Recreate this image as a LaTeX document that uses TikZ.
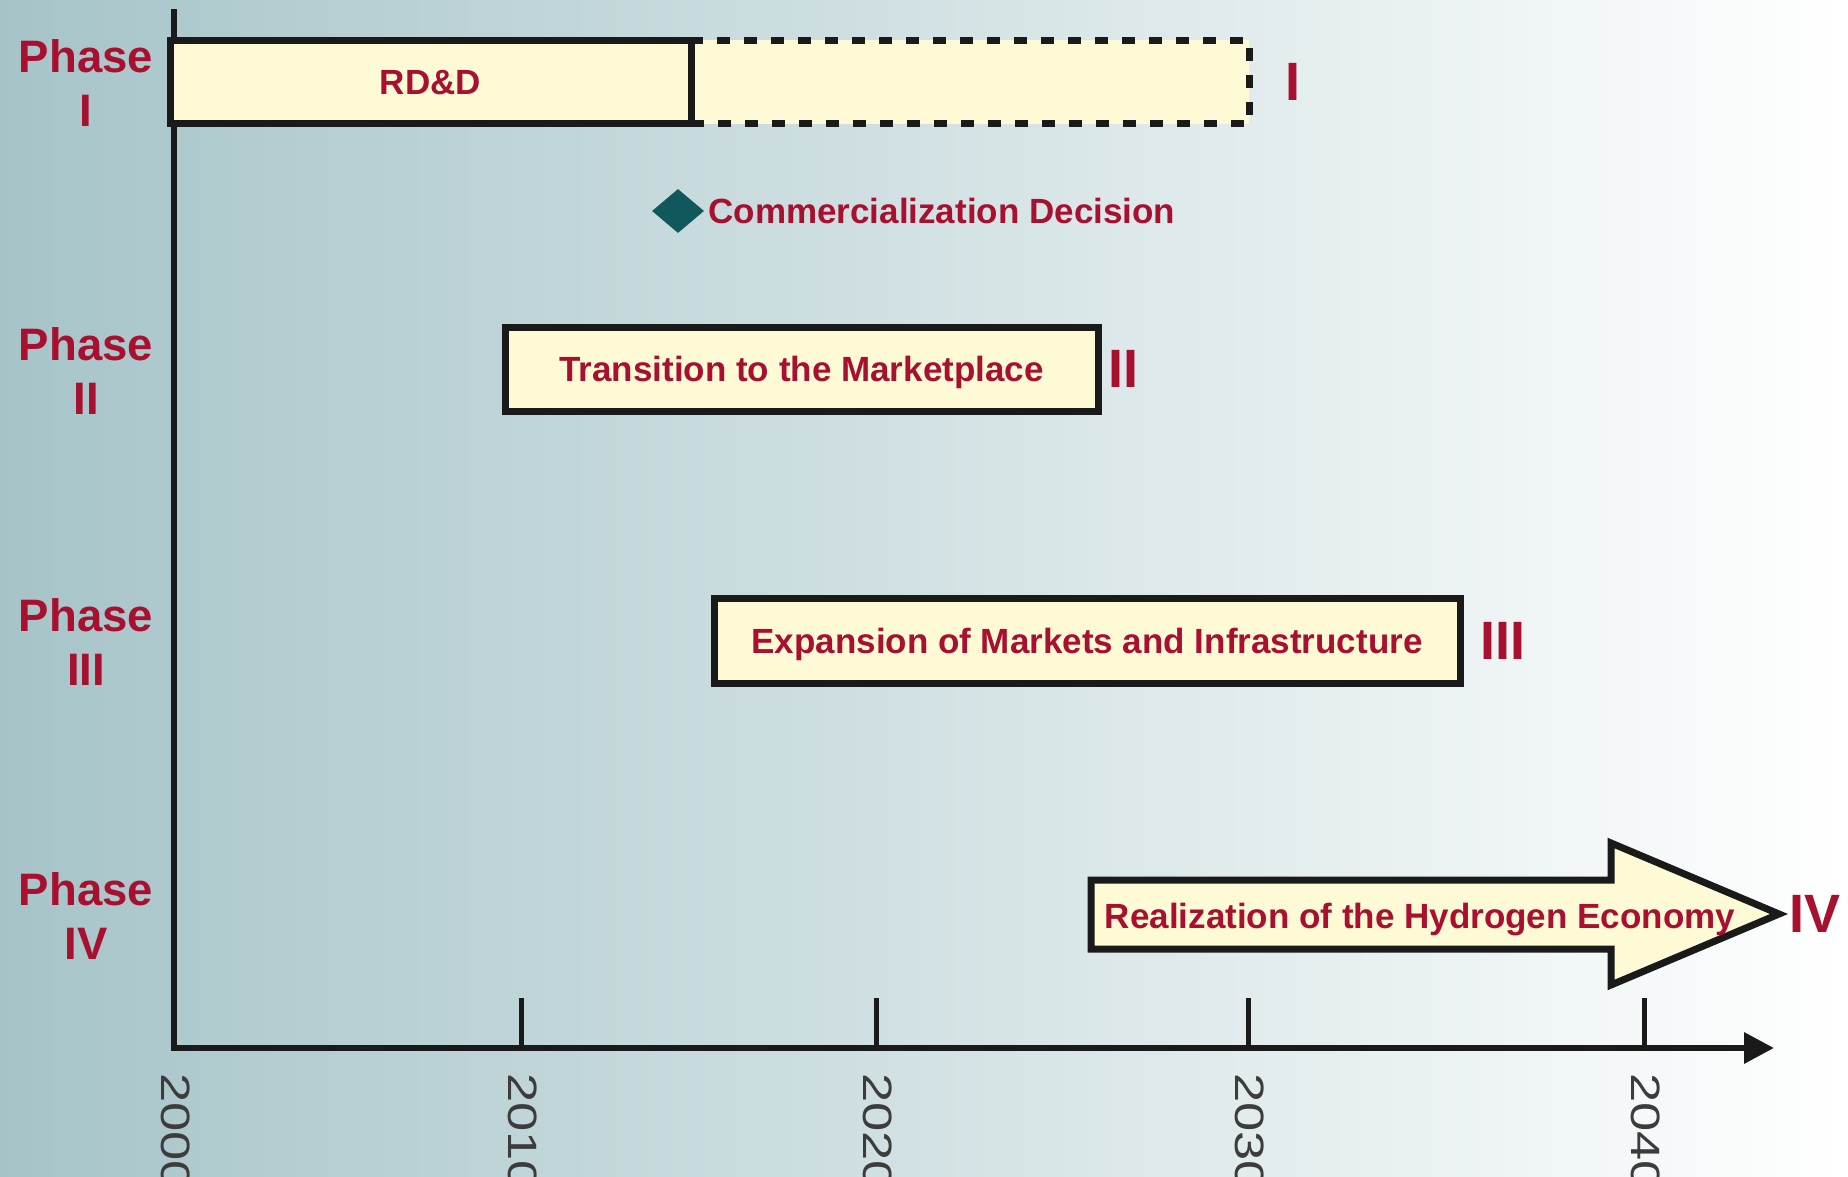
\documentclass[tikz,border=0pt]{standalone}
\usepackage{fontspec}
\setmainfont{Liberation Sans}
\usetikzlibrary{positioning, arrows.meta, shapes.geometric}

\definecolor{phasered}{RGB}{168,16,48}
\definecolor{barfill}{RGB}{255,250,214}
\definecolor{barline}{RGB}{26,26,26}
\definecolor{decteal}{RGB}{16,88,92}
\definecolor{yeargray}{RGB}{60,60,60}
\definecolor{bgleft}{RGB}{166,196,200}

\tikzset{
    >={Triangle[length=30pt,width=30pt]}, % filled head on the time axis
    outline/.style={draw=barline, line width=7pt, fill=barfill}, % cream boxes with heavy border
    bartext/.style={font=\fontsize{35}{40}\selectfont\bfseries, text=phasered, text height=25pt, text depth=0pt},
    phasebar/.style={outline, bartext, inner sep=0pt},
    extension/.style={phasebar, dash pattern=on 13pt off 14pt}, % open end of phase I
    phaselabel/.style={font=\fontsize{45.5}{54}\selectfont\bfseries, text=phasered, align=center, inner sep=0pt},
    numeral/.style={font=\fontsize{54}{54}\selectfont\bfseries, text=phasered, inner sep=0pt},
    yearlabel/.style={rotate=-90, xscale=1.28, anchor=west, inner sep=0pt, font=\fontsize{41}{41}\selectfont, text=yeargray},
    decision/.style={diamond, fill=decteal, minimum width=52pt, minimum height=44pt, inner sep=0pt},
    timeaxis/.style={draw=barline, line width=6.5pt},
    yeartick/.style={draw=barline, line width=5pt}
}

\begin{document}
\begin{tikzpicture}[x=1pt, y=-1pt]

        \useasboundingbox (0,0) rectangle (1848,1177);
        \clip (0,0) rectangle (1848,1177);
        \shade[left color=bgleft, right color=white] (0,0) rectangle (1848,1177);

        % time axis
        \coordinate (top) at (174,9);
        \coordinate (origin) at (174,1048);
        \coordinate (xend) at (1774,1048);
        \coordinate (t2010) at (521,1048);
        \coordinate (t2020) at (876,1048);
        \coordinate (t2030) at (1248,1048);
        \coordinate (t2040) at (1644,1048);

        \draw[timeaxis,->] (top) -- (origin) -- (xend);
        \draw[yeartick] (t2010) -- ++(0,-50);
        \draw[yeartick] (t2020) -- ++(0,-50);
        \draw[yeartick] (t2030) -- ++(0,-50);
        \draw[yeartick] (t2040) -- ++(0,-50);

        \node[yearlabel] (y2000) at (176,1073) {2000};
        \node[yearlabel] (y2010) at (523,1073) {2010};
        \node[yearlabel] (y2020) at (878,1073) {2020};
        \node[yearlabel] (y2030) at (1250,1073) {2030};
        \node[yearlabel] (y2040) at (1646,1073) {2040};

        % phase rows
        \node[phaselabel] (p1) at (86,83) {Phase\\I};
        \node[phaselabel] (p2) at (86,371) {Phase\\II};
        \node[phaselabel] (p3) at (86,642) {Phase\\III};
        \node[phaselabel] (p4) at (86,916) {Phase\\IV};

        \node[extension, minimum width=558pt, minimum height=83.5pt] (rddext) at (970,82) {};
        \node[phasebar, minimum width=521pt, minimum height=83.5pt] (rdd) at (430.5,82) {RD\&D};
        \node[numeral, right=33pt of rddext] (n1) {I};

        \node[decision] (dec) at (678,211) {};
        \node[bartext, inner sep=0pt, right=4pt of dec] (decl) {Commercialization Decision};

        \node[phasebar, minimum width=593pt, minimum height=84pt] (trans) at (801.5,369) {Transition to the Marketplace};
        \node[numeral, right=6.5pt of trans] (n2) {II};

        \node[phasebar, minimum width=746pt, minimum height=85pt] (expan) at (1087,640.5) {Expansion of Markets and Infrastructure};
        \node[numeral, right=16.5pt of expan] (n3) {III};

        \draw[outline] (1091,880) -- (1611,880) -- (1611,843) -- (1779,914)
            -- (1611,985) -- (1611,949) -- (1091,949) -- cycle;
        \coordinate (tip) at (1779,914);
        \node[bartext] (hyd) at (1420,916) {Realization of the Hydrogen Economy};
        \node[numeral, right=10pt of tip] (n4) {IV};

    \end{tikzpicture}
\end{document}
